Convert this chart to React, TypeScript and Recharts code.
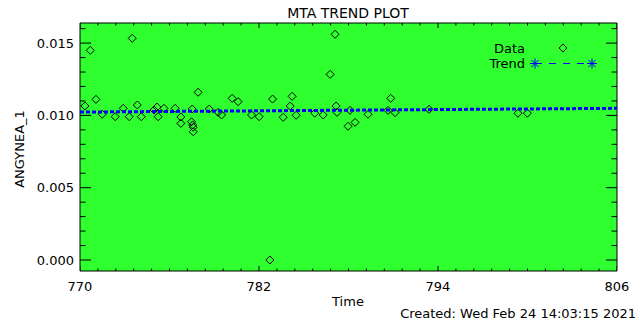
import React from "react";
import { ScatterChart, Scatter, XAxis, YAxis, CartesianGrid } from "recharts";

// Data points (Time, ANGYNEA_1)
const times: number[] = [
  770.33, 770.69, 771.07, 771.49, 772.36, 772.9, 773.3, 773.5, 773.84, 774.11,
  774.96, 775.16, 775.24, 775.63, 776.38, 776.76, 776.76, 777.48, 777.55, 777.59,
  777.59, 777.52, 777.92, 778.66, 779.26, 779.49, 780.2, 780.6, 781.5, 782.01,
  782.91, 782.73, 783.62, 784.09, 784.22, 784.49, 785.74, 786.3, 786.77, 787.1,
  787.17, 787.23, 787.97, 788.1, 788.44, 789.31, 790.65, 790.83, 791.12, 793.4,
  799.36, 799.99,
];
const values: number[] = [
  0.01065, 0.0145, 0.01111, 0.01008, 0.00991, 0.01049, 0.00991, 0.01533, 0.01072, 0.00991,
  0.01037, 0.01058, 0.00991, 0.01049, 0.01049, 0.00989, 0.00945, 0.00956, 0.00934, 0.00918,
  0.00887, 0.01044, 0.0116, 0.01044, 0.01021, 0.01003, 0.01118, 0.01095, 0.01003, 0.00991,
  0.01113, 0.0, 0.00987, 0.01065, 0.01132, 0.01001, 0.01015, 0.01003, 0.01284, 0.01561,
  0.01065, 0.01021, 0.00925, 0.01035, 0.00952, 0.01008, 0.01035, 0.01118, 0.01019, 0.01042,
  0.01015, 0.01015,
];
// Trend line endpoints
const trendTimes: number[] = [770, 806];
const trendValues: number[] = [0.01023, 0.01049];

// Axis ticks
const xMajorTicks: number[] = [770, 782, 794, 806];
const xMinorStep = 1.2;
const yMajorTicks: number[] = [0, 0.005, 0.01, 0.015];
const yAllTicks: number[] = [
  0, 0.001, 0.002, 0.003, 0.004, 0.005, 0.006, 0.007, 0.008, 0.009, 0.01, 0.011,
  0.012, 0.013, 0.014, 0.015, 0.016,
];

const xAllTicks: number[] = Array.from({ length: 31 }, (_, i) =>
  Math.round((770 + i * xMinorStep) * 10) / 10
);

const FONT = "DejaVu Sans";
const GREEN = "#2fff2f";
const X_DOMAIN: [number, number] = [770, 806];
const Y_DOMAIN: [number, number] = [-0.000761, 0.01639];

const isMajorX = (v: number) => xMajorTicks.some((m) => Math.abs(m - v) < 1e-6);
const isMajorY = (v: number) => yMajorTicks.some((m) => Math.abs(m - v) < 1e-9);

const points = times.map((t, i) => ({ x: t, y: values[i] }));
const trend = trendTimes.map((t, i) => ({ x: t, y: trendValues[i] }));

// Tick-mark anchors on the frame (placed through the chart's scales)
const leftMarks = yAllTicks.map((v) => ({ x: X_DOMAIN[0], y: v, major: isMajorY(v) }));
const rightMarks = yAllTicks.map((v) => ({ x: X_DOMAIN[1], y: v, major: isMajorY(v) }));
const bottomMarks = xAllTicks.map((v) => ({ x: v, y: Y_DOMAIN[0], major: isMajorX(v) }));
const topMarks = xAllTicks.map((v) => ({ x: v, y: Y_DOMAIN[1], major: isMajorX(v) }));

const TickMark = (props: any) => {
  const { cx, cy, payload, dx, dy, majorLen } = props;
  if (cx == null || cy == null) return <g />;
  const len = payload && payload.major ? majorLen : majorLen / 2;
  return (
    <line
      x1={cx}
      y1={cy}
      x2={cx + dx * len}
      y2={cy + dy * len}
      stroke="#000"
      strokeWidth={1}
    />
  );
};

const renderBottomLabel = (props: any) => {
  const x = Number(props.x);
  const y = Number(props.y);
  const v = props.payload.value;
  if (!isMajorX(v)) return <g key={`b-${props.index}`} />;
  return (
    <text key={`b-${props.index}`} x={x} y={y + 20} textAnchor="middle" fontFamily={FONT} fontSize={13} fill="#000" stroke="none">
      {String(v)}
    </text>
  );
};

const renderLeftLabel = (props: any) => {
  const x = Number(props.x);
  const y = Number(props.y);
  const v = props.payload.value;
  if (!isMajorY(v)) return <g key={`l-${props.index}`} />;
  return (
    <text key={`l-${props.index}`} x={x - 6} y={y} dy="0.36em" textAnchor="end" fontFamily={FONT} fontSize={13} fill="#000" stroke="none">
      {v.toFixed(3)}
    </text>
  );
};

const Diamond = (props: any) => {
  const { cx, cy } = props;
  if (cx == null || cy == null) return <g />;
  const r = 4;
  return (
    <path
      d={`M${cx},${cy - r} L${cx + r},${cy} L${cx},${cy + r} L${cx - r},${cy} Z`}
      fill="none"
      stroke="#000"
      strokeWidth={1}
    />
  );
};

const NoShape = () => <g />;

const Asterisk = ({ cx, cy }: { cx: number; cy: number }) => {
  const r = 5;
  const d = 3.6;
  return (
    <g stroke="#0000ff" strokeWidth={1}>
      <line x1={cx - r} x2={cx + r} y1={cy} y2={cy} />
      <line x1={cx} x2={cx} y1={cy - r} y2={cy + r} />
      <line x1={cx - d} x2={cx + d} y1={cy - d} y2={cy + d} />
      <line x1={cx - d} x2={cx + d} y1={cy + d} y2={cy - d} />
    </g>
  );
};

const MARGIN = { top: 23, right: 23, bottom: 49, left: 80 };

export default function App() {
  return (
    <div style={{ position: "absolute", left: 0, top: 0, width: 640, height: 320, background: "#fff" }}>
      {/* Background layer: plot-area fill */}
      <ScatterChart
        width={640}
        height={320}
        margin={MARGIN}
        style={{ position: "absolute", left: 0, top: 0 }}
      >
        <CartesianGrid horizontal={false} vertical={false} fill={GREEN} fillOpacity={1} />
        <XAxis dataKey="x" type="number" domain={X_DOMAIN} hide />
        <YAxis dataKey="y" type="number" domain={Y_DOMAIN} hide />
      </ScatterChart>
      {/* Foreground layer: axes and data */}
      <ScatterChart
        width={640}
        height={320}
        margin={{ top: 0, right: 0, bottom: 0, left: 0 }}
        style={{ position: "absolute", left: 0, top: 0 }}
      >
        <XAxis
          dataKey="x"
          type="number"
          domain={X_DOMAIN}
          ticks={xAllTicks}
          interval={0}
          allowDataOverflow
          height={MARGIN.bottom}
          tickSize={0}
          tickMargin={0}
          tickLine={false}
          axisLine={{ stroke: "#000", strokeWidth: 1 }}
          tick={renderBottomLabel}
        />
        <XAxis
          xAxisId="top"
          orientation="top"
          dataKey="x"
          type="number"
          domain={X_DOMAIN}
          allowDataOverflow
          height={MARGIN.top}
          tickLine={false}
          tick={false}
          axisLine={{ stroke: "#000", strokeWidth: 1 }}
        />
        <YAxis
          dataKey="y"
          type="number"
          domain={Y_DOMAIN}
          ticks={yAllTicks}
          interval={0}
          allowDataOverflow
          width={MARGIN.left}
          tickSize={0}
          tickMargin={0}
          tickLine={false}
          axisLine={{ stroke: "#000", strokeWidth: 1 }}
          tick={renderLeftLabel}
        />
        <YAxis
          yAxisId="right"
          orientation="right"
          dataKey="y"
          type="number"
          domain={Y_DOMAIN}
          allowDataOverflow
          width={MARGIN.right}
          tickLine={false}
          tick={false}
          axisLine={{ stroke: "#000", strokeWidth: 1 }}
        />
        <Scatter data={leftMarks} shape={<TickMark dx={1} dy={0} majorLen={11} />} isAnimationActive={false} />
        <Scatter data={rightMarks} shape={<TickMark dx={-1} dy={0} majorLen={11} />} isAnimationActive={false} />
        <Scatter data={bottomMarks} shape={<TickMark dx={0} dy={-1} majorLen={5} />} isAnimationActive={false} />
        <Scatter data={topMarks} shape={<TickMark dx={0} dy={1} majorLen={5} />} isAnimationActive={false} />
        <Scatter data={points} shape={<Diamond />} isAnimationActive={false} />
        <Scatter
          data={trend}
          shape={<NoShape />}
          line={{ stroke: "#0000ff", strokeWidth: 3, strokeDasharray: "4 2" }}
          isAnimationActive={false}
        />
      </ScatterChart>
      <svg
        width={640}
        height={320}
        style={{ position: "absolute", left: 0, top: 0, pointerEvents: "none" }}
      >
        <text x={348} y={18} textAnchor="middle" fontFamily={FONT} fontSize={14} fill="#000">
          MTA TREND PLOT
        </text>
        <text
          x={0}
          y={0}
          transform="translate(24,149) rotate(-90)"
          textAnchor="middle"
          fontFamily={FONT}
          fontSize={13}
          fill="#000"
        >
          ANGYNEA_1
        </text>
        <text x={348} y={306} textAnchor="middle" fontFamily={FONT} fontSize={13} fill="#000">
          Time
        </text>
        <text x={636} y={318} textAnchor="end" fontFamily={FONT} fontSize={13} fill="#000">
          Created: Wed Feb 24 14:03:15 2021
        </text>
        {/* Legend */}
        <text x={525} y={52.5} textAnchor="end" fontFamily={FONT} fontSize={13} fill="#000">
          Data
        </text>
        <path d="M563,44 L567,48 L563,52 L559,48 Z" fill="none" stroke="#000" strokeWidth={1} />
        <text x={525} y={67.5} textAnchor="end" fontFamily={FONT} fontSize={13} fill="#000">
          Trend
        </text>
        <line x1={535} x2={592} y1={63.5} y2={63.5} stroke="#0000ff" strokeWidth={1} strokeDasharray="7 7" />
        <Asterisk cx={535} cy={63.5} />
        <Asterisk cx={592} cy={63.5} />
      </svg>
    </div>
  );
}
